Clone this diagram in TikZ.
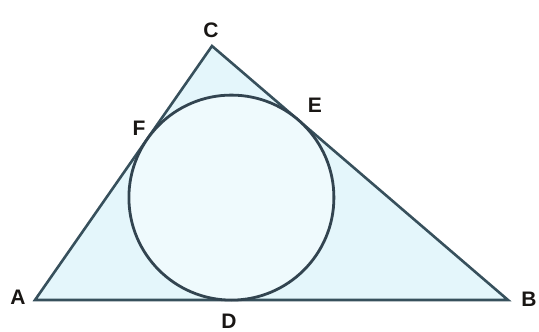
\documentclass[tikz,border=0pt]{standalone}
\usepackage{fontspec}
\setmainfont{Liberation Sans}
\usetikzlibrary{calc}
\definecolor{trifill}{RGB}{228,246,251}
\definecolor{triborder}{RGB}{55,80,92}
\definecolor{circborder}{RGB}{50,68,80}
\definecolor{labelcol}{RGB}{25,22,20}

\begin{document}
\begin{tikzpicture}[
                        x=1pt, y=-1pt,
                        font=\fontsize{21}{24}\selectfont\bfseries,
                        triangle/.style={draw=triborder, line width=2.6pt, fill=trifill, line join=miter},
                        incircle/.style={draw=circborder, line width=2.8pt, fill=trifill!60!white},
                        vlabel/.style={text=labelcol, inner sep=0pt}
                    ]

                    % ===== Frame =====
                    \useasboundingbox (0,0) rectangle (539,332);

                    % ===== Vertices =====
                    \coordinate (A) at (35,300);
                    \coordinate (B) at (508,300);
                    \coordinate (C) at (212,46);
                    \coordinate (I) at (231.4,197.6);

                    % ===== Triangle and incircle =====
                    \draw[triangle] (A) -- (B) -- (C) -- cycle;
                    \draw[incircle] (I) circle[radius=102.5];

                    % ===== Labels =====
                    \node[vlabel] (lA) at (18,297) {A};
                    \node[vlabel] (lB) at (529,299) {B};
                    \node[vlabel] (lC) at (211,30) {C};
                    \node[vlabel] (lD) at (229,321) {D};
                    \node[vlabel] (lE) at (315,105) {E};
                    \node[vlabel] (lF) at (139,128) {F};

                \end{tikzpicture}
\end{document}
